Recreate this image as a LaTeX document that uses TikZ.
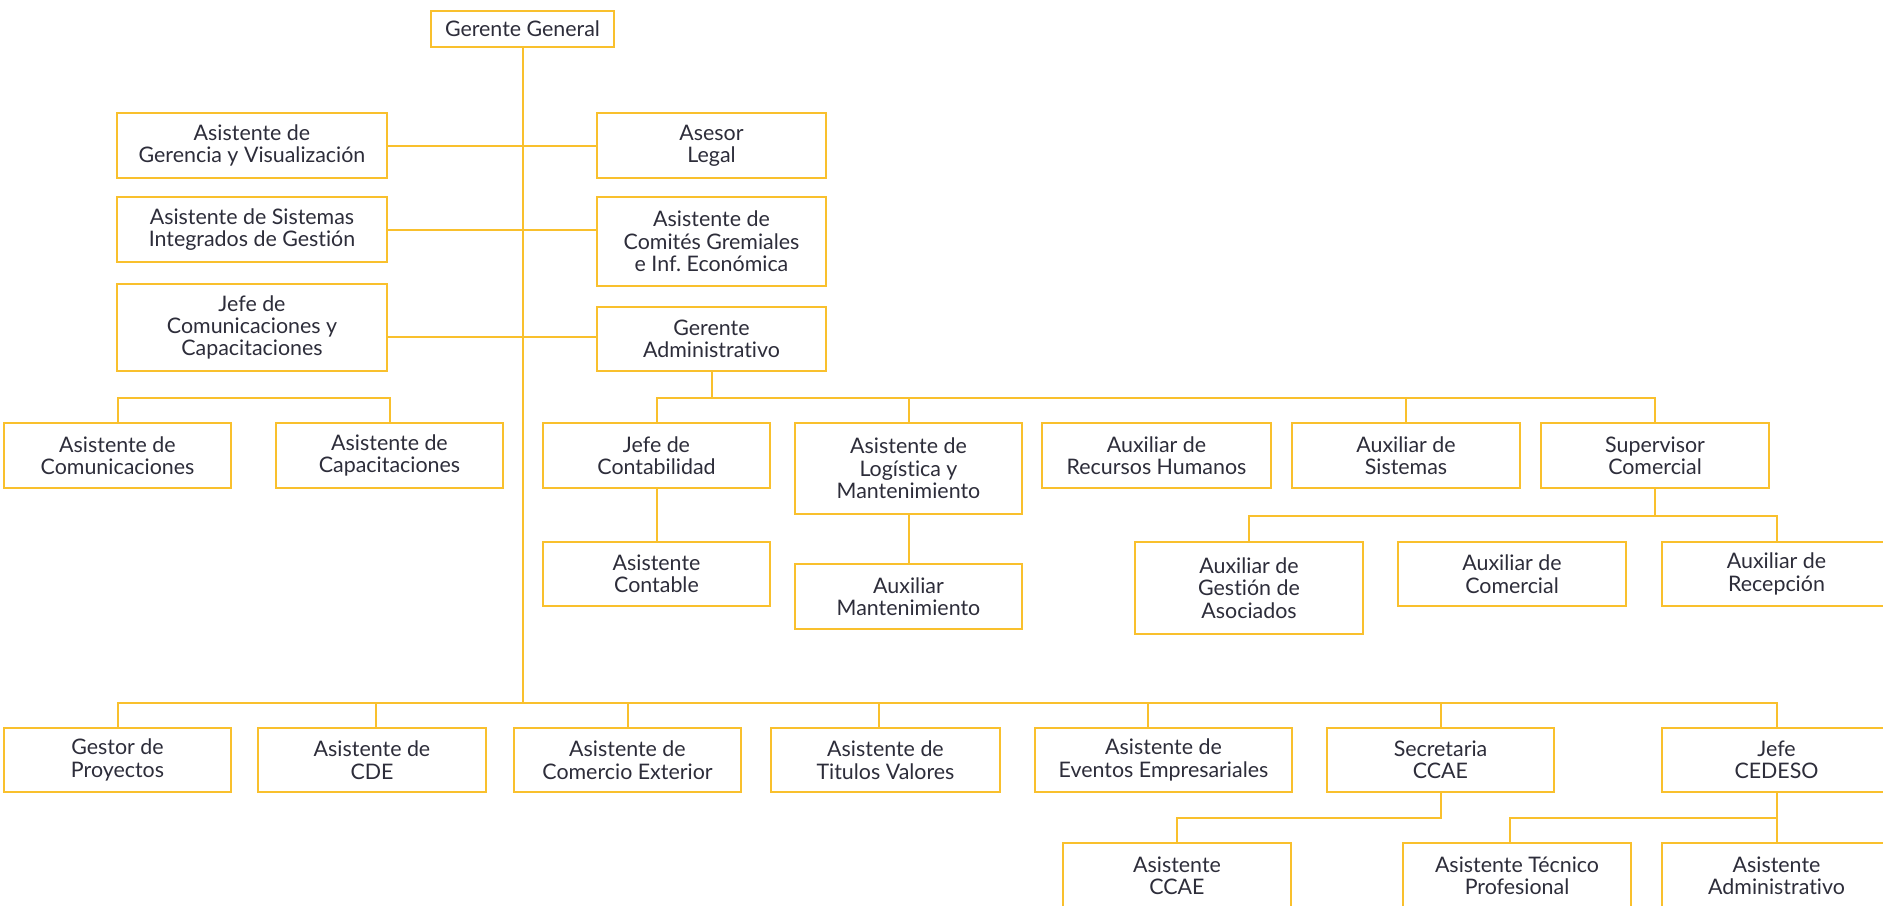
\documentclass[tikz,border=0pt]{standalone}
\usepackage{fontspec}
\setmainfont{Lato}[Ligatures={NoCommon}]
\definecolor{ylw}{RGB}{249,192,45}
\definecolor{txt}{RGB}{45,45,58}
\newcommand\orgbox[6]{%
  \pgfmathsetmacro\cx{(#2+#4)/2}%
  \pgfmathsetmacro\cy{(#3+#5)/2}%
  \pgfmathsetmacro\bw{(#4-#2)/2}%
  \pgfmathsetmacro\bh{(#5-#3)/2}%
  \node[orgnode, minimum width=\bw pt, minimum height=\bh pt] (#1) at (\cx,\cy) {#6};}
\begin{document}
\frenchspacing
\begin{tikzpicture}[x=0.5pt,y=-0.5pt,
  orgnode/.style={draw=ylw, line width=1pt, fill=white, align=center, inner sep=0pt,
    text=txt, font=\fontsize{10.7}{11.2}\selectfont},
  conn/.style={draw=ylw, line width=1pt}]
\useasboundingbox[fill=white] (0,0) rectangle (1883,905);
% boxes
\orgbox{gg}{431}{11}{614}{47}{Gerente General}
\orgbox{agv}{117}{113}{387}{178}{Asistente de\\Gerencia y Visualización}
\orgbox{al}{597}{113}{826}{178}{Asesor\\Legal}
\orgbox{asig}{117}{197}{387}{262}{Asistente de Sistemas\\Integrados de Gestión}
\orgbox{acg}{597}{197}{826}{286}{Asistente de\\Comités Gremiales\\e Inf.\ Económica}
\orgbox{jcc}{117}{284}{387}{371}{Jefe de\\Comunicaciones y\\Capacitaciones}
\orgbox{ga}{597}{307}{826}{371}{Gerente\\Administrativo}
\orgbox{acom}{4}{423}{231}{488}{Asistente de\\Comunicaciones}
\orgbox{acap}{276}{423}{503}{488}{Asistente de\\Capacitaciones}
\orgbox{jc}{543}{423}{770}{488}{Jefe de\\Contabilidad}
\orgbox{alm}{795}{423}{1022}{514}{Asistente de\\Logística y\\Mantenimiento}
\orgbox{arh}{1042}{423}{1271}{488}{Auxiliar de\\Recursos Humanos}
\orgbox{asis}{1292}{423}{1520}{488}{Auxiliar de\\Sistemas}
\orgbox{sc}{1541}{423}{1769}{488}{Supervisor\\Comercial}
\orgbox{acont}{543}{542}{770}{606}{Asistente\\Contable}
\orgbox{amant}{795}{564}{1022}{629}{Auxiliar\\Mantenimiento}
\orgbox{agas}{1135}{542}{1363}{634}{Auxiliar de\\Gestión de\\Asociados}
\orgbox{acomer}{1398}{542}{1626}{606}{Auxiliar de\\Comercial}
\orgbox{arec}{1662}{542}{1891}{606}{Auxiliar de\\Recepción}
\orgbox{gp}{4}{728}{231}{792}{Gestor de\\Proyectos}
\orgbox{acde}{258}{728}{486}{792}{Asistente de\\CDE}
\orgbox{ace}{514}{728}{741}{792}{Asistente de\\Comercio Exterior}
\orgbox{atv}{771}{728}{1000}{792}{Asistente de\\Titulos Valores}
\orgbox{aee}{1035}{728}{1292}{792}{Asistente de\\Eventos Empresariales}
\orgbox{sccae}{1327}{728}{1554}{792}{Secretaria\\CCAE}
\orgbox{jced}{1662}{728}{1891}{792}{Jefe\\CEDESO}
\orgbox{accae}{1063}{843}{1291}{908}{Asistente\\CCAE}
\orgbox{atp}{1403}{843}{1631}{908}{Asistente Técnico\\Profesional}
\orgbox{aadm}{1662}{843}{1891}{908}{Asistente\\Administrativo}
% bus coordinates
\coordinate (bus) at (0,703);
\coordinate (r3) at (0,337);
\coordinate (gabus) at (0,398);
\coordinate (scbus) at (0,516);
\coordinate (secbus) at (0,818);
% connectors
\draw[conn] (gg.south) -- (gg.south |- bus);
\draw[conn] (agv.east) -- (al.west);
\draw[conn] (asig.east) -- (asig.east -| acg.west);
\draw[conn] (jcc.east |- r3) -- (ga.west |- r3);
\draw[conn] (acom.north) -- (acom.north |- gabus) -- (acap.north |- gabus) -- (acap.north);
\draw[conn] (ga.south) -- (ga.south |- gabus);
\draw[conn] (jc.north) -- (jc.north |- gabus) -- (sc.north |- gabus) -- (sc.north);
\draw[conn] (alm.north) -- (alm.north |- gabus);
\draw[conn] (asis.north) -- (asis.north |- gabus);
\draw[conn] (jc.south) -- (acont.north);
\draw[conn] (alm.south) -- (amant.north);
\draw[conn] (sc.south) -- (sc.south |- scbus);
\draw[conn] (agas.north) -- (agas.north |- scbus) -- (arec.north |- scbus) -- (arec.north);
\draw[conn] (gp.north) -- (gp.north |- bus) -- (jced.north |- bus) -- (jced.north);
\draw[conn] ([xshift=2pt]acde.north) -- ([xshift=2pt]acde.north |- bus);
\draw[conn] (ace.north) -- (ace.north |- bus);
\draw[conn] ([xshift=-3.25pt]atv.north) -- ([xshift=-3.25pt]atv.north |- bus);
\draw[conn] ([xshift=-7.75pt]aee.north) -- ([xshift=-7.75pt]aee.north |- bus);
\draw[conn] (sccae.north) -- (sccae.north |- bus);
\draw[conn] (sccae.south) -- (sccae.south |- secbus) -- (accae.north |- secbus) -- (accae.north);
\draw[conn] (jced.south) -- (aadm.north);
\draw[conn] ([xshift=-3.5pt]atp.north) -- ([xshift=-3.5pt]atp.north |- secbus) -- (jced.south |- secbus);
\end{tikzpicture}
\end{document}
